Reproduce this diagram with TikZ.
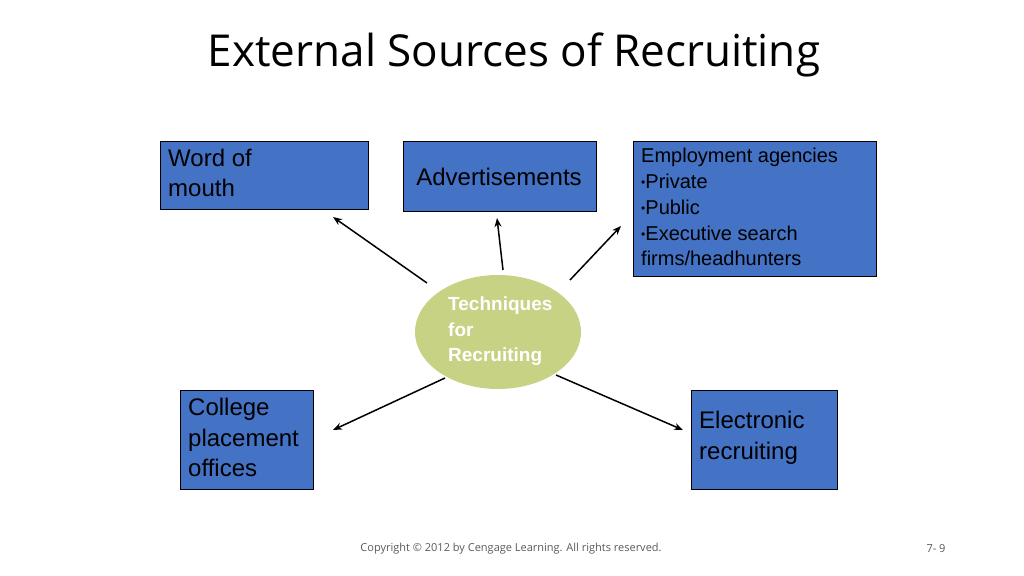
\documentclass[tikz,border=0pt]{standalone}
\usepackage{fontspec}
\setmainfont{Liberation Sans}
\newfontfamily\titlefont{Open Sans}
\usetikzlibrary{arrows.meta,shapes.geometric}
\definecolor{boxblue}{RGB}{68,114,196}
\definecolor{ellgreen}{RGB}{200,210,132}
\begin{document}
\begin{tikzpicture}[x=1pt,y=-1pt,
  box/.style={draw=black,fill=boxblue,line width=0.8pt,anchor=north west,inner sep=0pt},
  lbl/.style={anchor=north west,align=left,inner sep=0pt,font=\fontsize{24}{30}\selectfont},
  arr/.style={-{Stealth[length=9pt,width=7pt]},line width=1.5pt}]
\useasboundingbox (0,0) rectangle (1024,575);
\node[font=\titlefont\fontsize{44}{50}\selectfont] (title) at (514,55) {External Sources of Recruiting};
\node[box,minimum width=208,minimum height=68] (wom) at (160,141) {};
\node[lbl] (womt) at (168,149) {Word of\\mouth};
\node[box,minimum width=193,minimum height=70] (adv) at (403,141) {};
\node[font=\fontsize{24}{30}\selectfont] (advt) at (499,177) {Advertisements};
\node[box,minimum width=243,minimum height=135] (emp) at (633,141) {};
\node[lbl,font=\fontsize{20}{25.8}\selectfont] (empt) at (641,148) {Employment agencies\\\raisebox{2pt}{\fontsize{12}{12}\selectfont•}Private\\\raisebox{2pt}{\fontsize{12}{12}\selectfont•}Public\\\raisebox{2pt}{\fontsize{12}{12}\selectfont•}Executive search\\firms/headhunters};
\node[box,minimum width=133,minimum height=99] (col) at (180,390) {};
\node[lbl,font=\fontsize{24}{30.5}\selectfont] (colt) at (188,398) {College\\placement\\offices};
\node[box,minimum width=146,minimum height=99] (ele) at (691,390) {};
\node[lbl,font=\fontsize{24}{30.5}\selectfont] (elet) at (699,411) {Electronic\\recruiting};
\node[ellipse,fill=ellgreen,minimum width=166,minimum height=114,inner sep=0pt] (tech) at (498,332) {};
\node[anchor=north west,align=left,inner sep=0pt,text=white,font=\bfseries\fontsize{19}{25.5}\selectfont] (techt) at (448,297) {Techniques\\for\\Recruiting};
\coordinate (a1) at (427,283); \coordinate (b1) at (333,217);
\coordinate (a2) at (503,270); \coordinate (b2) at (497,218);
\coordinate (a3) at (570,280); \coordinate (b3) at (621,226);
\coordinate (a4) at (445,378); \coordinate (b4) at (333,430);
\coordinate (a5) at (556,375); \coordinate (b5) at (683,430);
\draw[arr] (a1) -- (b1);
\draw[arr] (a2) -- (b2);
\draw[arr] (a3) -- (b3);
\draw[arr] (a4) -- (b4);
\draw[arr] (a5) -- (b5);
\node[text=gray!70!black,font=\titlefont\fontsize{11}{13}\selectfont] (copy) at (511,549) {Copyright © 2012 by Cengage Learning. All rights reserved.};
\node[text=gray!70!black,font=\titlefont\fontsize{11}{13}\selectfont] (pg) at (936,549) {7- 9};
\end{tikzpicture}
\end{document}
